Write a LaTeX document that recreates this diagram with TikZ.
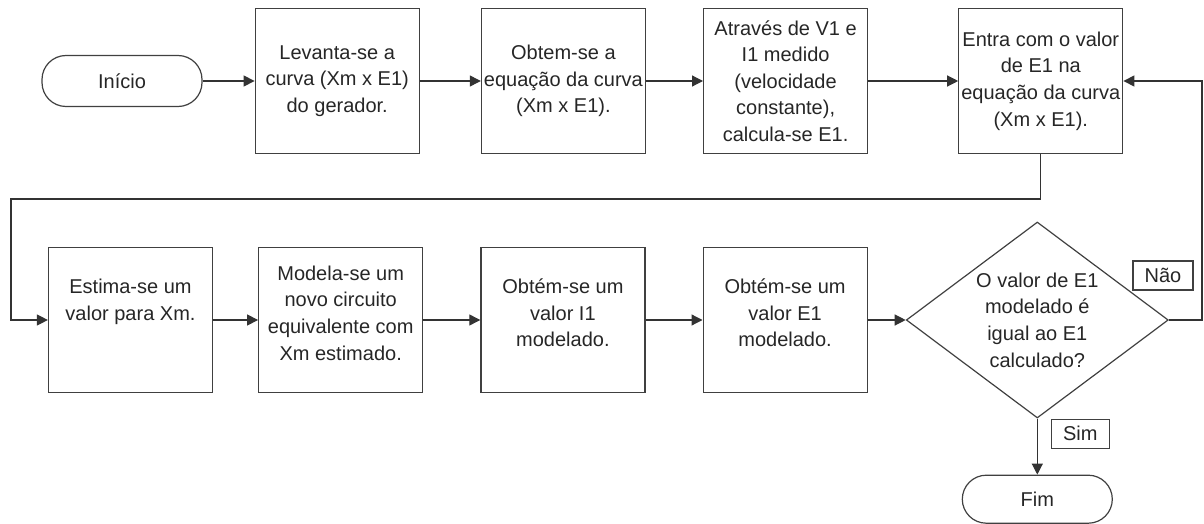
\documentclass[tikz,border=0pt]{standalone}
\usepackage{fontspec}
\setmainfont{Liberation Sans}
\usetikzlibrary{arrows.meta,positioning,shapes.geometric}

\begin{document}
\begin{tikzpicture}[
    x=0.5pt, y=-0.5pt,
    font=\fontsize{10pt}{13.3pt}\selectfont,
    every node/.style={text=black!85},
    block/.style={rectangle, draw=black!75, line width=0.6pt, minimum width=82pt, minimum height=72.5pt, inner sep=0pt, align=center},
    terminal/.style={rectangle, draw=black!75, line width=0.6pt, rounded corners=12pt, inner sep=0pt, align=center},
    decision/.style={diamond, draw=black!75, line width=0.6pt, minimum width=131pt, minimum height=98pt, aspect=1.35, inner sep=0pt, align=center},
    tag/.style={rectangle, draw=black!75, line width=0.6pt, minimum height=14.5pt, inner sep=0pt},
    arrow/.style={-{Triangle[length=5.5pt, width=5.5pt]}, line width=0.6pt, draw=black!80}
]
    \useasboundingbox (0,0) rectangle (1204,524);
    % first row
    \node[terminal, minimum width=80pt, minimum height=25.5pt] (inicio) at (122,81) {Início};
    \node[block, right=26pt of inicio] (levanta) {Levanta-se a\\curva (Xm x E1)\\do gerador.};
    \node[block, right=30.5pt of levanta] (obtem) {Obtem-se a\\equação da curva\\(Xm x E1).};
    \node[block, right=28.5pt of obtem] (atraves) {Através de V1 e\\I1 medido\\(velocidade\\constante),\\calcula-se E1.};
    \node[block, right=45pt of atraves] (entra) {Entra com o valor\\de E1 na\\equação da curva\\(Xm x E1).};
    % second row
    \node[block, text depth=20.3pt] (estima) at (130.5,320) {Estima-se um\\valor para Xm.};
    \node[block, text depth=7pt, right=22.5pt of estima] (modela) {Modela-se um\\novo circuito\\equivalente com\\Xm estimado.};
    \node[block, text depth=7pt, right=28.5pt of modela] (valorI) {Obtém-se um\\valor I1\\modelado.};
    \node[block, text depth=7pt, right=28.5pt of valorI] (valorE) {Obtém-se um\\valor E1\\modelado.};
    \node[decision, right=19pt of valorE] (igual) {O valor de E1\\modelado é\\igual ao E1\\calculado?};
    \node[terminal, minimum width=75pt, minimum height=24pt, below=28pt of igual] (fim) {Fim};
    \node[tag, minimum width=30pt] (nao) at ([shift={(-3pt,22.25pt)}]igual.east) {Não};
    \node[tag, minimum width=29pt] (sim) at ([shift={(21.5pt,-7.5pt)}]igual.south) {Sim};
    % return paths
    \coordinate (back) at (11,199);
    \coordinate (rim) at (1202,0);
    \draw[arrow] (inicio) -- (levanta);
    \draw[arrow] (levanta) -- (obtem);
    \draw[arrow] (obtem) -- (atraves);
    \draw[arrow] (atraves) -- (entra);
    \draw[arrow] (entra.south) |- (back) |- (estima.west);
    \draw[arrow] (estima) -- (modela);
    \draw[arrow] (modela) -- (valorI);
    \draw[arrow] (valorI) -- (valorE);
    \draw[arrow] (valorE) -- (igual);
    \draw[arrow] (igual) -- (fim);
    \draw[arrow] (igual.east) -- (igual.east -| rim) |- (entra.east);
\end{tikzpicture}
\end{document}
